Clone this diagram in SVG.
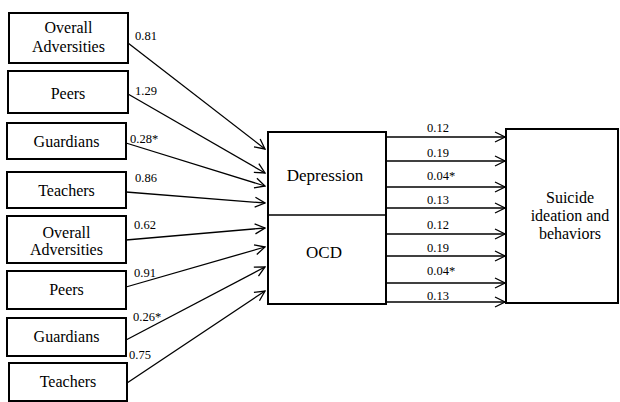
<svg xmlns="http://www.w3.org/2000/svg" width="620" height="402" viewBox="0 0 620 402">
<style>
.box{fill:#fff;stroke:#000;stroke-width:2}
.t{font-size:16px;text-anchor:middle}
.tb{font-size:17px;text-anchor:middle}
.l{font-size:12.5px}
.c{stroke:#000;stroke-width:1.3;fill:none;marker-end:url(#a)}
</style>
<defs>
<marker id="a" viewBox="0 0 12 12" refX="11" refY="6" markerWidth="12" markerHeight="12" markerUnits="userSpaceOnUse" orient="auto">
<path d="M1,1 L11,6 L1,11" fill="none" stroke="#000" stroke-width="1.3"/>
</marker>
</defs>
<rect width="620" height="402" fill="#fff"/>
<g font-family="Liberation Serif, serif" fill="#000">
<g id="connectors">
<line class="c" x1="128" y1="43" x2="265" y2="149"/>
<line class="c" x1="128" y1="94" x2="265" y2="173"/>
<line class="c" x1="126" y1="143" x2="265" y2="186"/>
<line class="c" x1="126" y1="192" x2="265" y2="203"/>
<line class="c" x1="126" y1="240" x2="265" y2="228"/>
<line class="c" x1="126" y1="287" x2="265" y2="247"/>
<line class="c" x1="126" y1="340" x2="265" y2="267"/>
<line class="c" x1="127" y1="383" x2="265" y2="291"/>
<line class="c" x1="386" y1="137" x2="505" y2="137"/>
<line class="c" x1="386" y1="161" x2="505" y2="161"/>
<line class="c" x1="386" y1="187" x2="505" y2="187"/>
<line class="c" x1="386" y1="208" x2="505" y2="208"/>
<line class="c" x1="386" y1="234" x2="505" y2="234"/>
<line class="c" x1="386" y1="256" x2="505" y2="256"/>
<line class="c" x1="386" y1="283" x2="505" y2="283"/>
<line class="c" x1="386" y1="302" x2="505" y2="302"/>
<text class="l" x="135" y="40">0.81</text>
<text class="l" x="135" y="95">1.29</text>
<text class="l" x="130" y="143">0.28*</text>
<text class="l" x="135" y="182">0.86</text>
<text class="l" x="134" y="229">0.62</text>
<text class="l" x="134" y="277">0.91</text>
<text class="l" x="133" y="321">0.26*</text>
<text class="l" x="129" y="359">0.75</text>
<text class="l" x="427" y="132">0.12</text>
<text class="l" x="427" y="157">0.19</text>
<text class="l" x="427" y="180">0.04*</text>
<text class="l" x="427" y="204">0.13</text>
<text class="l" x="427" y="229">0.12</text>
<text class="l" x="427" y="252">0.19</text>
<text class="l" x="427" y="275">0.04*</text>
<text class="l" x="427" y="300">0.13</text>
</g>
<g id="n1"><rect class="box" x="9" y="13" width="119" height="50"/><text class="t" x="68.5" y="33">Overall</text><text class="t" x="68.5" y="52">Adversities</text></g>
<g id="n2"><rect class="box" x="8" y="71" width="120" height="42"/><text class="t" x="68" y="99">Peers</text></g>
<g id="n3"><rect class="box" x="7" y="123" width="119" height="36"/><text class="t" x="66.5" y="147">Guardians</text></g>
<g id="n4"><rect class="box" x="7" y="172" width="119" height="36"/><text class="t" x="66.5" y="196">Teachers</text></g>
<g id="n5"><rect class="box" x="7" y="216" width="119" height="47"/><text class="t" x="66.5" y="238">Overall</text><text class="t" x="66.5" y="255">Adversities</text></g>
<g id="n6"><rect class="box" x="7" y="271" width="119" height="38"/><text class="t" x="66.5" y="295">Peers</text></g>
<g id="n7"><rect class="box" x="7" y="318" width="119" height="38"/><text class="t" x="66.5" y="342">Guardians</text></g>
<g id="n8"><rect class="box" x="9" y="363" width="118" height="38"/><text class="t" x="68" y="387">Teachers</text></g>
<g id="mediators"><rect class="box" x="268" y="132" width="118" height="172"/><line x1="268" y1="215" x2="386" y2="215" stroke="#000" stroke-width="1.3"/><text class="tb" x="325" y="181">Depression</text><text class="tb" x="324" y="258">OCD</text></g>
<g id="outcome"><rect class="box" x="506" y="129" width="112" height="174"/><text class="t" x="570" y="203">Suicide</text><text class="t" x="570" y="221">ideation and</text><text class="t" x="570" y="239">behaviors</text></g>
</g>
</svg>
